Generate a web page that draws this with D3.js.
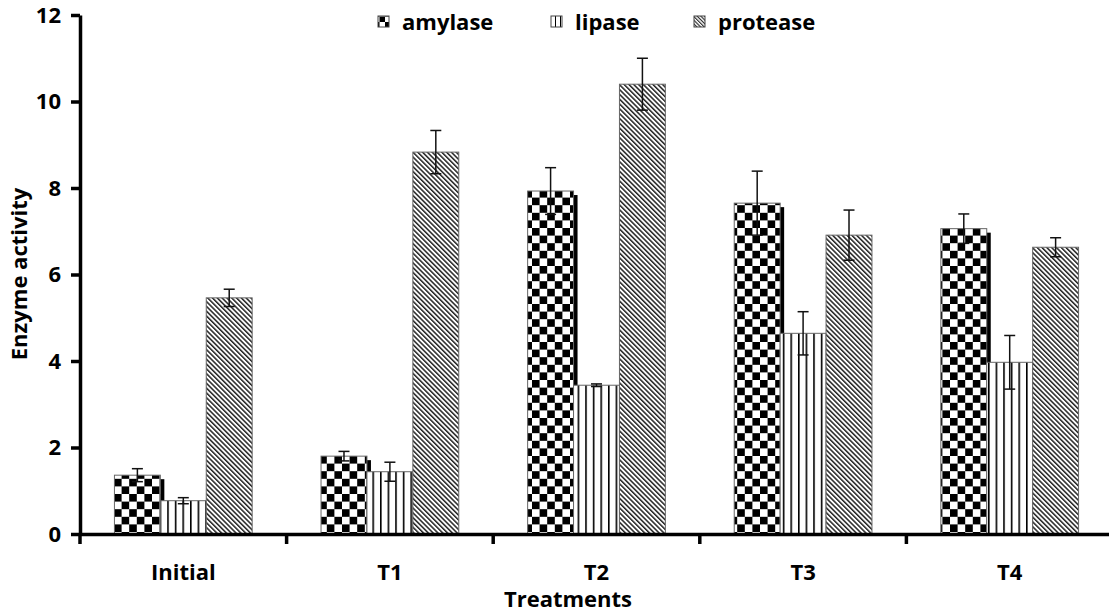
<!DOCTYPE html>
<html>
<head>
<meta charset="utf-8">
<title>Enzyme activity</title>
<script src="https://d3js.org/d3.v7.min.js"></script>
<style>
  body { margin: 0; background: #fff; }
  text { font-family: "Open Sans", sans-serif; font-weight: bold; fill: #000; }
</style>
</head>
<body>
<div id="chart"></div>
<script>
// data
var categories = ["Initial", "T1", "T2", "T3", "T4"];
var series = ["amylase", "lipase", "protease"];
var amylase = [1.36, 1.80, 7.93, 7.65, 7.06];
var amylaseErr = [0.15, 0.11, 0.54, 0.74, 0.34];
var lipase = [0.77, 1.44, 3.44, 4.64, 3.97];
var lipaseErr = [0.07, 0.22, 0.03, 0.50, 0.62];
var protease = [5.46, 8.83, 10.40, 6.91, 6.63];
var proteaseErr = [0.20, 0.50, 0.60, 0.58, 0.22];
var yTicks = [0, 2, 4, 6, 8, 10, 12];

var values = { amylase: amylase, lipase: lipase, protease: protease };
var errors = { amylase: amylaseErr, lipase: lipaseErr, protease: proteaseErr };
var fills = { amylase: "url(#checker)", lipase: "url(#vlines)", protease: "url(#diag)" };
var iconFills = { amylase: "url(#checkerIcon)", lipase: "url(#vlinesIcon)", protease: "url(#diagIcon)" };

var W = 1109, H = 614;
var svg = d3.select("#chart").append("svg")
  .attr("width", W)
  .attr("height", H);

// patterns
var defs = svg.append("defs");
function checker(id, c) {
  var p = defs.append("pattern").attr("id", id)
    .attr("patternUnits", "userSpaceOnUse")
    .attr("width", 2 * c).attr("height", 2 * c);
  p.append("rect").attr("width", 2 * c).attr("height", 2 * c).attr("fill", "#fff");
  p.append("rect").attr("width", c).attr("height", c).attr("fill", "#000");
  p.append("rect").attr("x", c).attr("y", c).attr("width", c).attr("height", c).attr("fill", "#000");
}
function vlines(id, s, w) {
  var p = defs.append("pattern").attr("id", id)
    .attr("patternUnits", "userSpaceOnUse")
    .attr("width", s).attr("height", s);
  p.append("rect").attr("width", s).attr("height", s).attr("fill", "#fff");
  p.append("rect").attr("width", w).attr("height", s).attr("fill", "#000");
}
function diag(id, s, w) {
  var p = defs.append("pattern").attr("id", id)
    .attr("patternUnits", "userSpaceOnUse")
    .attr("width", s).attr("height", s)
    .attr("patternTransform", "rotate(-45)");
  p.append("rect").attr("width", s).attr("height", s).attr("fill", "#fff");
  p.append("rect").attr("width", w).attr("height", s).attr("fill", "#222");
}
checker("checker", 7.6);
vlines("vlines", 7.6, 1.6);
diag("diag", 3.4, 1.5);
checker("checkerIcon", 5.5);
vlines("vlinesIcon", 5, 1);
diag("diagIcon", 2.6, 1.1);

// scales
var x = d3.scaleBand()
  .domain(categories)
  .range([80, 1113])
  .paddingInner(0)
  .paddingOuter(0);

var xs = d3.scaleBand()
  .domain(series)
  .range([0, x.bandwidth()])
  .paddingInner(0)
  .paddingOuter(0.75);

var y = d3.scaleLinear()
  .domain([0, 12])
  .range([534, 15]);

// shadow behind amylase bars
svg.append("g").selectAll("rect")
  .data(categories)
  .enter().append("rect")
    .attr("x", function(d) { return x(d) + xs("amylase") + 4; })
    .attr("y", function(d, i) { return y(amylase[i]) + 4; })
    .attr("width", xs.bandwidth())
    .attr("height", function(d, i) { return y(0) - y(amylase[i]) - 4; })
    .attr("fill", "#000");

// bars
series.forEach(function(s) {
  svg.append("g").selectAll("rect")
    .data(categories)
    .enter().append("rect")
      .attr("x", function(d) { return x(d) + xs(s); })
      .attr("y", function(d, i) { return y(values[s][i]); })
      .attr("width", xs.bandwidth())
      .attr("height", function(d, i) { return y(0) - y(values[s][i]); })
      .attr("fill", fills[s])
      .attr("stroke", "#666")
      .attr("stroke-width", 1);
});

// error bars
series.forEach(function(s) {
  var g = svg.append("g").attr("stroke", "#111").attr("stroke-width", 1.5);
  categories.forEach(function(c, i) {
    var cx = x(c) + xs(s) + xs.bandwidth() / 2;
    var hi = y(values[s][i] + errors[s][i]);
    var lo = y(values[s][i] - errors[s][i]);
    g.append("line").attr("x1", cx).attr("x2", cx).attr("y1", hi).attr("y2", lo);
    g.append("line").attr("x1", cx - 5.5).attr("x2", cx + 5.5).attr("y1", hi).attr("y2", hi);
    g.append("line").attr("x1", cx - 5.5).attr("x2", cx + 5.5).attr("y1", lo).attr("y2", lo);
  });
});

// y axis
var yAxis = svg.append("g")
  .attr("transform", "translate(80,0)")
  .call(d3.axisLeft(y).tickValues(yTicks).tickSize(9).tickSizeOuter(0).tickPadding(10));
yAxis.select(".domain").attr("stroke", "#000").attr("stroke-width", 3.5);
yAxis.selectAll(".tick line").attr("stroke", "#000").attr("stroke-width", 3.5);
yAxis.selectAll(".tick text").style("font-size", "22px");

// x axis
var xAxis = svg.append("g")
  .attr("transform", "translate(0," + y(0) + ")")
  .call(d3.axisBottom(x).tickSize(0).tickSizeOuter(0).tickPadding(30));
xAxis.select(".domain").attr("stroke", "#000").attr("stroke-width", 3.5);
xAxis.selectAll(".tick text").style("font-size", "22px");

// category boundary ticks
var bounds = categories.map(function(c) { return x(c); }).concat([x(categories[categories.length - 1]) + x.bandwidth()]);
svg.append("g").selectAll("line")
  .data(bounds)
  .enter().append("line")
    .attr("x1", function(d) { return d; })
    .attr("x2", function(d) { return d; })
    .attr("y1", y(0))
    .attr("y2", y(0) + 10)
    .attr("stroke", "#000")
    .attr("stroke-width", 3.5);

// axis titles
svg.append("text")
  .attr("x", 568)
  .attr("y", 607)
  .attr("text-anchor", "middle")
  .style("font-size", "22px")
  .text("Treatments");

svg.append("text")
  .attr("transform", "translate(27,274) rotate(-90)")
  .attr("text-anchor", "middle")
  .style("font-size", "22px")
  .text("Enzyme activity");

// legend
var legendX = { amylase: 378, lipase: 551, protease: 694 };
var legend = svg.append("g");
series.forEach(function(s) {
  legend.append("rect")
    .attr("x", legendX[s])
    .attr("y", 16)
    .attr("width", 11)
    .attr("height", 11)
    .attr("fill", iconFills[s])
    .attr("stroke", "#444")
    .attr("stroke-width", 1);
  legend.append("text")
    .attr("x", legendX[s] + 24)
    .attr("y", 30)
    .style("font-size", "22px")
    .text(s);
});
</script>
</body>
</html>
